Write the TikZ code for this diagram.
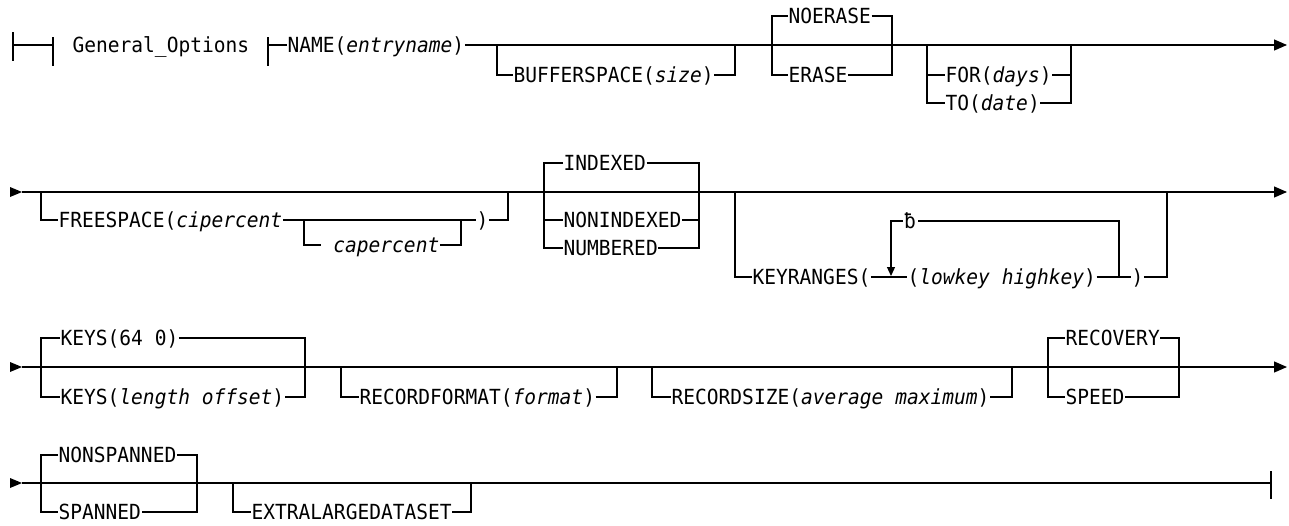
\documentclass[tikz,border=0pt]{standalone}
\usepackage{fontspec}
\setmonofont[FakeStretch=0.94]{DejaVu Sans Mono}
\usepackage{tikz}
\usetikzlibrary{arrows.meta}

\begin{document}
\begin{tikzpicture}[x=1pt,y=-1pt,line width=1.2pt,>={Triangle[length=13pt,width=11pt]},
		word/.style={font=\ttfamily\fontsize{20.8}{24}\selectfont,inner sep=0pt,anchor=west,text height=15pt,text depth=0pt},
		gap/.style={word,anchor=center,inner xsep=1pt}]
		\useasboundingbox (0,0) rectangle (1289,525);

		\draw (13,32) -- (13,61) (13,45) -- (53,45) (53,37) -- (53,66);
		\node[word] (gen) at (72,45) {General\textunderscore Options};
		\node[word] (name) at (287,45) {NAME(\textit{entryname})};
		\draw (268,37) -- (268,66) (268,45) -- (name.west);
		\draw[->] (name.east) -- (1287,45);

		\node[word] (buf) at (513,75) {BUFFERSPACE(\textit{size})};
		\draw (497,45) |- (buf.west) (buf.east) -| (735,45);

		\node[word] (noerase) at (788,16) {NOERASE};
		\node[word] (erase) at (788,75) {ERASE};
		\draw (noerase.west) -| (772,75) -- (erase.west);
		\draw (noerase.east) -| (892,75) -- (erase.east);

		\node[word] (for) at (945,75) {FOR(\textit{days})};
		\node[word] (to) at (945,103) {TO(\textit{date})};
		\draw (927,45) |- (to.west) (927,75) -- (for.west);
		\draw (for.east) -- (1071,75) (to.east) -| (1071,45);

		\fill (10,187) -- (22,192) -- (10,197) -- cycle;
		\draw[->] (22,192) -- (1287,192);
		\node[word] (free) at (58,220) {FREESPACE(\textit{cipercent}};
		\node[word] (freeend) at (476,220) {)};
		\node[word] (cap) at (321,245) {\ \textit{capercent}};
		\draw (41,192) |- (free.west) (free.east) -- (freeend.west) (freeend.east) -| (508,192);
		\draw (304,220) |- (cap.west) (cap.east) -| (461,220);

		\node[word] (indexed) at (563,163) {INDEXED};
		\node[word] (nonindexed) at (563,220) {NONINDEXED};
		\node[word] (numbered) at (563,248) {NUMBERED};
		\draw (indexed.west) -| (544,220) |- (numbered.west) (544,220) -- (nonindexed.west);
		\draw (indexed.east) -| (699,248) -- (numbered.east) (nonindexed.east) -- (699,220);

		\node[word] (keyr) at (752,277) {KEYRANGES(};
		\node[word] (lowhigh) at (907,277) {(\textit{lowkey highkey})};
		\node[word] (keyrend) at (1131,277) {)};
		\node[gap] (blank) at (910,221) {ƀ};
		\draw (735,192) |- (keyr.west) (keyr.east) -- (lowhigh.west) (lowhigh.east) -- (keyrend.west) (keyrend.east) -| (1167,192);
		\draw (1119,277) |- (blank.east);
		\draw[-{Triangle[length=9pt,width=8pt]}] (blank.west) -| (891,276);

		\fill (10,362) -- (22,367) -- (10,372) -- cycle;
		\draw[->] (22,367) -- (1287,367);
		\node[word] (keysdef) at (60,338) {KEYS(64 0)};
		\node[word] (keyslen) at (60,397) {KEYS(\textit{length offset})};
		\draw (keysdef.west) -| (41,397) -- (keyslen.west);
		\draw (keysdef.east) -| (305,397) -- (keyslen.east);

		\node[word] (recfmt) at (359,397) {RECORDFORMAT(\textit{format})};
		\draw (341,367) |- (recfmt.west) (recfmt.east) -| (617,367);
		\node[word] (recsize) at (671,397) {RECORDSIZE(\textit{average maximum})};
		\draw (652,367) |- (recsize.west) (recsize.east) -| (1012,367);

		\node[word] (recovery) at (1065,338) {RECOVERY};
		\node[word] (speed) at (1065,397) {SPEED};
		\draw (recovery.west) -| (1048,397) -- (speed.west);
		\draw (recovery.east) -| (1179,397) -- (speed.east);

		\fill (10,478) -- (22,483) -- (10,488) -- cycle;
		\draw (22,483) -- (1271,483) (1271,471) -- (1271,499);
		\node[word] (nonspan) at (58,455) {NONSPANNED};
		\node[word] (span) at (58,512) {SPANNED};
		\draw (nonspan.west) -| (41,512) -- (span.west);
		\draw (nonspan.east) -| (197,512) -- (span.east);

		\node[word] (xlarge) at (251,512) {EXTRALARGEDATASET};
		\draw (233,483) |- (xlarge.west) (xlarge.east) -| (471,483);
	\end{tikzpicture}
\end{document}
